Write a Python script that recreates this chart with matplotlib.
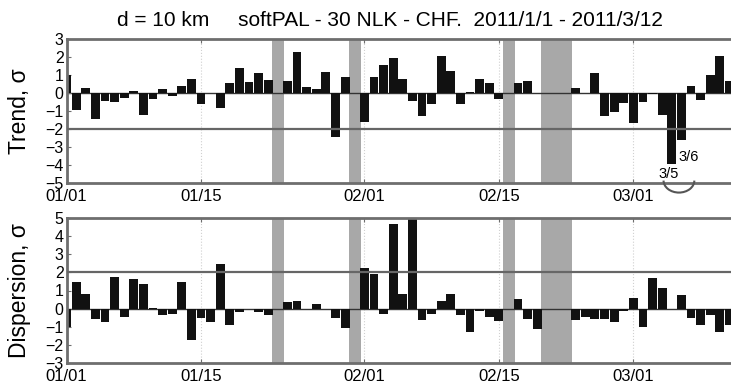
import numpy as np
import pandas as pd
import matplotlib
matplotlib.use("Agg")
import matplotlib.pyplot as plt
from matplotlib.patches import Arc

plt.rcParams['font.family'] = ['Liberation Sans', 'DejaVu Sans']

# daily values 2011/01/01 .. 2011/03/11 (nan = no data, shaded)
dates = pd.date_range("2011-01-01", "2011-03-11", freq="D")
nan = np.nan
trend = [1.0, -0.9, 0.3, -1.45, -0.45, -0.5, -0.25, 0.15, -1.2, -0.3,
         0.25, -0.15, 0.4, 0.8, -0.6, 0.0, -0.8, 0.55, 1.4, 0.65,
         1.15, 0.75, nan, 0.7, 2.3, 0.35, 0.25, 1.2, -2.4, 0.9,
         nan, -1.6, 0.9, 1.55, 1.95, 0.8, -0.45, -1.25, -0.6, 2.05,
         1.25, -0.6, 0.05, 0.8, 0.55, -0.3, nan, 0.55, 0.7, 0.0,
         nan, nan, nan, 0.3, 0.0, 1.15, -1.25, -1.05, -0.55, -1.65,
         -0.5, -0.05, -1.2, -3.9, -2.6, 0.4, -0.35, 1.0, 2.05, 0.7]
dispersion = [-1.0, 1.45, 0.8, -0.55, -0.75, 1.75, -0.45, 1.65, 1.35, 0.05,
              -0.35, -0.3, 1.45, -1.7, -0.5, -0.75, 2.45, -0.9, -0.2, 0.0,
              -0.2, -0.35, nan, 0.35, 0.45, 0.0, 0.25, 0.0, -0.5, -1.05,
              nan, 2.25, 1.9, -0.3, 4.65, 0.8, 5.0, -0.6, -0.3, 0.45,
              0.8, -0.35, -1.3, -0.1, -0.45, -0.65, nan, 0.55, -0.55, -1.1,
              nan, nan, nan, -0.6, -0.45, -0.55, -0.55, -0.75, -0.15, 0.6,
              -1.0, 1.7, 1.15, 0.0, 0.75, -0.5, -0.9, -0.35, -1.3, -0.9]
gaps = [("2011-01-23", "2011-01-23"), ("2011-01-31", "2011-01-31"),
        ("2011-02-16", "2011-02-16"), ("2011-02-20", "2011-02-22")]
tick_dates = ["2011-01-01", "2011-01-15", "2011-02-01", "2011-02-15", "2011-03-01"]
tick_labels = ["01/01", "01/15", "02/01", "02/15", "03/01"]

start = pd.Timestamp("2011-01-01")
day = (dates - start).days.values
tick_pos = [(pd.Timestamp(t) - start).days for t in tick_dates]

fig = plt.figure(figsize=(7.31, 3.87), dpi=100)
W, H = 731.0, 387.0
px = 9.607  # pixels per day
left = 66.5
ax1 = fig.add_axes([left / W, 1 - 183.3 / H, 70.5 * px / W, 144.0 / H])
ax2 = fig.add_axes([left / W, 1 - 363.3 / H, 70.5 * px / W, 145.6 / H])

frame_c = "#6e6e6e"

def style(ax, vals, ylim, lines, ylabel):
    for a, b in gaps:
        x0 = (pd.Timestamp(a) - start).days - 0.6
        x1 = (pd.Timestamp(b) - start).days + 0.65
        ax.axvspan(x0, x1, color="#a8a8a8", lw=0, zorder=0)
    for t in tick_pos:
        ax.axvline(t, color="#d0d0d0", lw=0.8, ls=":", zorder=0.5)
    ax.bar(day, vals, width=0.92, color="#111111", zorder=2)
    ax.axhline(0, color="#333333", lw=1.0, zorder=1)
    for y in lines:
        ax.axhline(y, color="#666666", lw=1.6, zorder=3)
    ax.set_xlim(0, 70.5)
    ax.set_ylim(*ylim)
    ax.set_yticks(range(ylim[0], ylim[1] + 1))
    ax.set_xticks(tick_pos)
    ax.set_xticklabels(tick_labels)
    ax.tick_params(direction="in", length=3, color=frame_c, top=True)
    ax.tick_params(axis="x", labelsize=12, pad=4)
    ax.tick_params(axis="y", labelsize=11.5, pad=2)
    for s in ax.spines.values():
        s.set_color(frame_c)
        s.set_linewidth(2)
    ax.set_ylabel(ylabel, fontsize=16.5)

style(ax1, trend, (-5, 3), [-2], "Trend, σ")
style(ax2, dispersion, (-3, 5), [2], "Dispersion, σ")
ax1.yaxis.set_label_coords(-0.052, 0.5)
ax2.yaxis.set_label_coords(-0.052, 0.5)

ax1.text(63.75, -3.55, "3/6", fontsize=10.5, ha="left", va="center")
ax1.text(62.7, -4.5, "3/5", fontsize=10.5, ha="center", va="center")
ax1.add_patch(Arc((63.75, -4.85), 3.2, 1.33, theta1=180, theta2=360,
                  color="#555555", lw=1.5, clip_on=False, zorder=5))

fig.text(117 / W, 1 - 20.7 / H,
         "d = 10 km     softPAL - 30 NLK - CHF.  2011/1/1 - 2011/3/12",
         ha="left", va="center", fontsize=15)

fig.savefig("out.png", dpi=100)
